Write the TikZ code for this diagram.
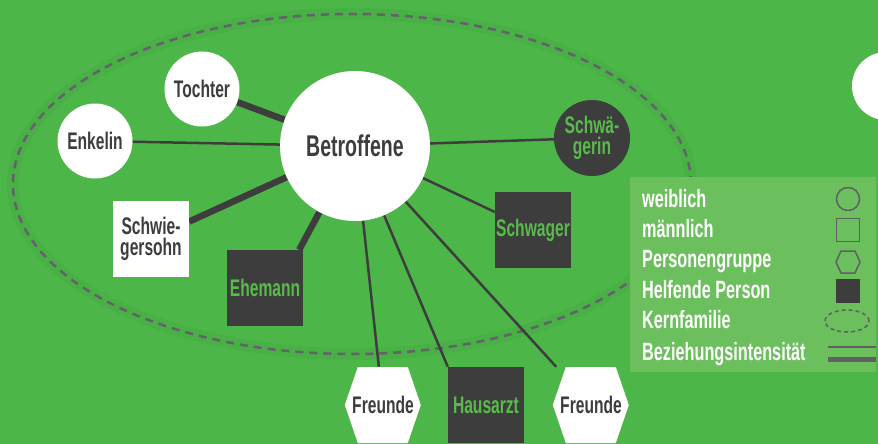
\documentclass[tikz,border=0pt]{standalone}
\usepackage{fontspec}
\setmainfont{Liberation Sans}[FakeStretch=0.65]
\usetikzlibrary{backgrounds,positioning}

\definecolor{bggreen}{RGB}{76,183,72}
\definecolor{boxgreen}{RGB}{108,191,93}
\definecolor{textgreen}{RGB}{88,187,74}
\definecolor{darkgrey}{RGB}{61,61,61}
\definecolor{dashgrey}{RGB}{100,96,108}
\definecolor{keygrey}{RGB}{95,95,102}

\tikzset{
  person/.style={inner sep=0pt, align=center, text=darkgrey},
  weiblich/.style={person, circle, fill=white, minimum size=75pt},
  maennlich/.style={person, rectangle, fill=white, minimum size=76pt},
  gruppe/.style={person, rectangle, minimum size=76pt},
  helferin/.style={weiblich, fill=darkgrey, text=textgreen},
  helfer/.style={maennlich, fill=darkgrey, text=textgreen},
  schwach/.style={draw=darkgrey, line width=2.5pt},
  stark/.style={draw=darkgrey, line width=6.5pt},
  legende/.style={anchor=base west, inner sep=0pt, text=white, font=\bfseries\fontsize{25pt}{25pt}\selectfont},
  symbol/.style={draw=keygrey, line width=1.5pt, inner sep=0pt},
}
% Sechseck hinter einem Gruppenknoten
\newcommand{\sechseck}[1]{\fill[white] (#1.west) -- ++(13,-38) -- ++(50,0) -- ++(13,38) -- ++(-13,38) -- ++(-50,0) -- cycle;}

\begin{document}
\begin{tikzpicture}[x=1pt, y=-1pt, font=\bfseries\fontsize{24pt}{21pt}\selectfont]
	\clip (0,0) rectangle (878,444);

	% Personen
	\node[weiblich, minimum size=150pt, font=\bfseries\fontsize{30pt}{30pt}\selectfont] (betr) at (355,146) {Betroffene};
	\node[weiblich] (tochter) at (202,89) {Tochter};
	\node[weiblich] (enkelin) at (95,141) {Enkelin};
	\node[maennlich] (schwsohn) at (151,239) {Schwie-\\gersohn};
	\node[helfer] (ehemann) at (265,288) {Ehemann};
	\node[helferin, minimum size=76pt] (schwaegerin) at (592,138) {Schw\"a-\\gerin};
	\node[helfer] (schwager) at (533,230) {Schwager};
	\node[gruppe] (freunde1) at (383,405) {Freunde};
	\node[helfer] (hausarzt) at (486,405) {Hausarzt};
	\node[gruppe] (freunde2) at (591,405) {Freunde};
	\node[weiblich, minimum size=68pt] (weitere) at (886,86) {};

	\begin{scope}[on background layer]
		\fill[bggreen] (0,0) rectangle (878,444);
		% Kernfamilie
		\draw[black, opacity=.035, line width=12pt] (352,184) ellipse [x radius=339pt, y radius=170pt];
		\draw[dashgrey, line width=2.5pt, dash pattern=on 8pt off 6pt] (352,184) ellipse [x radius=339pt, y radius=170pt];
		% Beziehungen
		\draw[stark] (betr) -- (tochter);
		\draw[schwach] (betr) -- (enkelin);
		\draw[stark] (betr) -- (schwsohn);
		\draw[stark] (betr) -- ([xshift=-4pt]ehemann.north east);
		\draw[schwach] (betr) -- (schwaegerin);
		\draw[schwach] (betr) -- (schwager);
		\draw[schwach] (betr) -- (freunde1);
		\draw[schwach] (betr) -- (hausarzt.north west);
		\draw[schwach] (betr) -- (freunde2);
		\sechseck{freunde1}
		\sechseck{freunde2}
	\end{scope}

	% Legende
	\fill[boxgreen] (630,177) rectangle (876,372);
	\node[legende] (lw) at (642,207) {weiblich};
	\node[legende] (lm) at (642,237) {m\"annlich};
	\node[legende] (lg) at (642,267) {Personengruppe};
	\node[legende] (lh) at (642,298) {Helfende Person};
	\node[legende] (lk) at (642,328) {Kernfamilie};
	\node[legende] (lb) at (642,360) {Beziehungsintensit\"at};
	\node[symbol, circle, minimum size=23pt] (sw) at (848,199) {};
	\node[symbol, rectangle, minimum size=23pt] (sm) at (848,230) {};
	\draw[keygrey, line width=1.5pt] (836,262) -- ++(5,-11) -- ++(14,0) -- ++(5,11) -- ++(-5,11) -- ++(-14,0) -- cycle;
	\node[rectangle, fill=darkgrey, minimum size=24pt, inner sep=0pt] (sh) at (848,291) {};
	\draw[keygrey, line width=1.5pt, dash pattern=on 4pt off 3pt] (847,321) ellipse [x radius=22pt, y radius=11pt];
	\draw[keygrey, line width=2pt] (828,347) -- (876,347);
	\draw[keygrey, line width=5pt] (828,359) -- (876,359);
\end{tikzpicture}
\end{document}
